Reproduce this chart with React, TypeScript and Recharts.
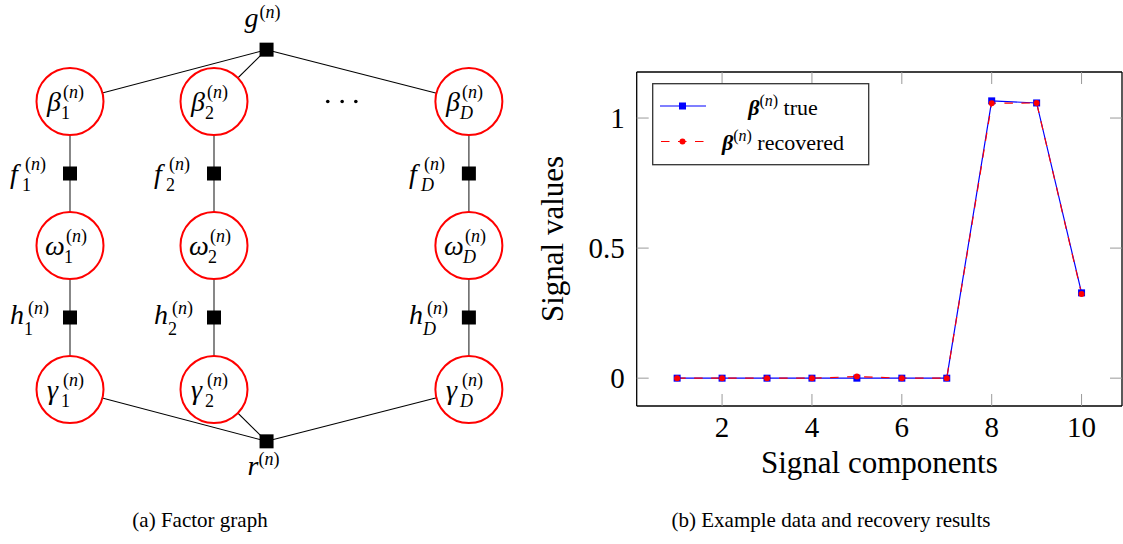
import { ScatterChart, Scatter, LineChart, Line, XAxis, YAxis, Legend } from 'recharts'

// ---- factor graph (a) ----
// node grid units: one row step = one unit
const columnIds = ['1', '2', 'D']
const columnX = [0, 2, 5.54]
const chainSymbols = ['β', 'f', 'ω', 'h', 'γ']
const chainKinds = ['var', 'factor', 'var', 'factor', 'var']
const hubSymbols = ['g', 'r']
const hubX = 2.73
const hubRows = [-0.72, 4.72]
const ellipsisX = [3.58, 3.78, 3.97]

// ---- signal recovery (b) ----
const components = [1, 2, 3, 4, 5, 6, 7, 8, 9, 10]
const trueValues = [0, 0, 0, 0, 0, 0, 0, 1.066, 1.058, 0.328]
const recoveredValues = [0, 0, 0, 0, 0.006, 0, 0, 1.057, 1.058, 0.324]
const xTicks = [2, 4, 6, 8, 10]
const yTicks = [0, 0.5, 1]

const captions = ['(a) Factor graph', '(b) Example data and recovery results']

const serif = '"Liberation Serif", "DejaVu Serif", serif'

type GNode = { id: string; sym: string; sub: string; kind: string; x: number; y: number }

const nodes: GNode[] = []
columnIds.forEach((sub, c) =>
  chainSymbols.forEach((sym, r) =>
    nodes.push({ id: sym + sub, sym, sub, kind: chainKinds[r], x: columnX[c], y: r })
  )
)
hubSymbols.forEach((sym, i) => nodes.push({ id: sym, sym, sub: '', kind: 'hub', x: hubX, y: hubRows[i] }))
const byId = (id: string) => nodes.find(n => n.id === id) as GNode

const edges: { a: GNode; b: GNode; chain: boolean }[] = []
columnIds.forEach(sub => {
  for (let r = 0; r < chainSymbols.length - 1; r++)
    edges.push({ a: byId(chainSymbols[r] + sub), b: byId(chainSymbols[r + 1] + sub), chain: true })
  edges.push({ a: byId('g'), b: byId('β' + sub), chain: false })
  edges.push({ a: byId('r'), b: byId('γ' + sub), chain: false })
})

const dots = ellipsisX.map(x => ({ x, y: 0 }))

// label placement relative to node centre (px)
const glyphs: Record<string, { bx: number; by: number; sx: number; subX: number; supY: number; subY: number }> = {
  β: { bx: -23, by: 9, sx: -7, subX: -9, supY: -4, subY: 17 },
  ω: { bx: -25, by: 9, sx: -4, subX: -6, supY: -4, subY: 17 },
  γ: { bx: -23, by: 9, sx: -7, subX: -9, supY: -4, subY: 17 },
  f: { bx: -60, by: 9, sx: -45, subX: -48, supY: -4, subY: 17 },
  h: { bx: -60, by: 6, sx: -42, subX: -46, supY: -4, subY: 17 },
  g: { bx: -22, by: -23, sx: -7, subX: 0, supY: -32, subY: 0 },
  r: { bx: -19, by: 34, sx: -8, subX: 0, supY: 24, subY: 0 },
}

function MathLabel({ cx, cy, sym, sub }: { cx: number; cy: number; sym: string; sub: string }) {
  const g = glyphs[sym]
  return (
    <g fontFamily={serif} fill="#000">
      <text x={cx + g.bx} y={cy + g.by} fontSize={28} fontStyle="italic">{sym}</text>
      <text x={cx + g.sx} y={cy + g.supY} fontSize={18}>
        (<tspan fontStyle="italic">n</tspan>)
      </text>
      {sub && (
        <text x={cx + g.subX} y={cy + g.subY} fontSize={18} fontStyle={sub === 'D' ? 'italic' : 'normal'}>
          {sub}
        </text>
      )}
    </g>
  )
}

function NodeShape(props: any) {
  const { cx, cy, payload } = props
  if (payload.kind === 'var') {
    return (
      <g>
        <circle cx={cx} cy={cy} r={33.5} fill="#fff" stroke="#ff0000" strokeWidth={2} />
        <MathLabel cx={cx} cy={cy} sym={payload.sym} sub={payload.sub} />
      </g>
    )
  }
  return (
    <g>
      <rect x={cx - 7} y={cy - 7} width={14} height={14} fill="#000" />
      <MathLabel cx={cx} cy={cy} sym={payload.sym} sub={payload.sub} />
    </g>
  )
}

function FactorGraph() {
  return (
    <ScatterChart width={540} height={500} margin={{ top: 0, right: 0, bottom: 0, left: 0 }}>
      <XAxis type="number" dataKey="x" hide allowDataOverflow domain={[-70 / 72, -70 / 72 + 540 / 72]} />
      <YAxis type="number" dataKey="y" hide allowDataOverflow reversed domain={[-101.5 / 72, -101.5 / 72 + 500 / 72]} />
      {edges.map((e, i) => (
        <Scatter
          key={'e' + i}
          data={[e.a, e.b]}
          fill={e.chain ? '#555' : '#000'}
          line={{ stroke: e.chain ? '#555' : '#000', strokeWidth: e.chain ? 1.4 : 1.1 }}
          shape={() => <g />}
          isAnimationActive={false}
        />
      ))}
      <Scatter
        data={dots}
        fill="#000"
        shape={(p: any) => <circle cx={p.cx} cy={p.cy} r={1.8} fill="#000" />}
        isAnimationActive={false}
      />
      <Scatter data={nodes} fill="#000" shape={NodeShape} isAnimationActive={false} />
    </ScatterChart>
  )
}

const signalRows = components.map((c, i) => ({ component: c, actual: trueValues[i], recovered: recoveredValues[i] }))

const tickStroke = '#9a9a9a'
const TL = 12

function LegendBox() {
  return (
    <svg width={218} height={83} style={{ display: 'block' }}>
      <rect x={0.7} y={0.7} width={216} height={81} fill="#fff" stroke="#333" strokeWidth={1.3} />
      <line x1={8} x2={54} y1={23} y2={23} stroke="#0000ff" strokeWidth={1.2} />
      <rect x={27} y={19.5} width={7} height={7} fill="#0000ff" />
      <line x1={8} x2={54} y1={58.5} y2={58.5} stroke="#ff0000" strokeWidth={1.2} strokeDasharray="8.5 8.5" strokeDashoffset={-1} />
      <circle cx={30.5} cy={58.5} r={3} fill="#ff0000" />
      <text x={131} y={32} textAnchor="middle" fontFamily={serif} fontSize={22}>
        <tspan fontWeight="bold" fontStyle="italic">β</tspan>
        <tspan fontSize={16} dy={-9}>(</tspan>
        <tspan fontSize={16} fontStyle="italic">n</tspan>
        <tspan fontSize={16}>)</tspan>
        <tspan dy={9}>{'  true'}</tspan>
      </text>
      <text x={131} y={66.5} textAnchor="middle" fontFamily={serif} fontSize={22}>
        <tspan fontWeight="bold" fontStyle="italic">β</tspan>
        <tspan fontSize={16} dy={-9}>(</tspan>
        <tspan fontSize={16} fontStyle="italic">n</tspan>
        <tspan fontSize={16}>)</tspan>
        <tspan dy={9}>{'  recovered'}</tspan>
      </text>
    </svg>
  )
}

function SignalChart() {
  return (
    <LineChart width={603} height={470} data={signalRows} margin={{ top: 31, right: 0, bottom: 0, left: 0 }}>
      <XAxis
        xAxisId="b"
        dataKey="component"
        type="number"
        domain={[0.1, 10.9]}
        allowDataOverflow
        ticks={xTicks}
        interval={0}
        height={104}
        tickSize={0}
        tickMargin={0}
        tickLine={false}
        axisLine={{ stroke: '#000', strokeWidth: 1.3 }}
        tick={(p: any) => (
          <g>
            <line x1={p.x} x2={p.x} y1={p.y} y2={p.y - TL} stroke={tickStroke} strokeWidth={1} />
            <text x={p.x} y={p.y + 31} textAnchor="middle" fontFamily={serif} fontSize={29} fill="#000">
              {p.payload.value}
            </text>
          </g>
        )}
        label={(p: any) => {
          const vb = p?.viewBox ?? { x: 116.7, y: 366, width: 485, height: 104 }
          return (
            <text x={vb.x + vb.width / 2} y={vb.y + 67} textAnchor="middle" fontFamily={serif} fontSize={31} fill="#000">
              Signal components
            </text>
          )
        }}
      />
      <XAxis
        xAxisId="t"
        orientation="top"
        dataKey="component"
        type="number"
        domain={[0.1, 10.9]}
        allowDataOverflow
        ticks={xTicks}
        interval={0}
        height={1}
        tickSize={0}
        tickMargin={0}
        tickLine={false}
        axisLine={{ stroke: '#000', strokeWidth: 1.3 }}
        tick={(p: any) => <line x1={p.x} x2={p.x} y1={p.y} y2={p.y + TL} stroke={tickStroke} strokeWidth={1} />}
      />
      <YAxis
        yAxisId="l"
        type="number"
        domain={[-0.107, 1.177]}
        allowDataOverflow
        ticks={yTicks}
        interval={0}
        width={116.7}
        tickSize={0}
        tickMargin={0}
        tickLine={false}
        axisLine={{ stroke: '#000', strokeWidth: 1.3 }}
        tick={(p: any) => (
          <g>
            <line x1={p.x} x2={p.x + TL} y1={p.y} y2={p.y} stroke={tickStroke} strokeWidth={1} />
            <text x={p.x - 12} y={p.y + 10} textAnchor="end" fontFamily={serif} fontSize={29} fill="#000">
              {p.payload.value}
            </text>
          </g>
        )}
        label={(p: any) => {
          const vb = p?.viewBox ?? { x: 0, y: 32, width: 116.7, height: 334 }
          const lx = vb.x + 43
          const ly = vb.y + vb.height / 2
          return (
            <text x={lx} y={ly} transform={`rotate(-90 ${lx} ${ly})`} textAnchor="middle" fontFamily={serif} fontSize={31} fill="#000">
              Signal values
            </text>
          )
        }}
      />
      <YAxis
        yAxisId="r"
        orientation="right"
        type="number"
        domain={[-0.107, 1.177]}
        allowDataOverflow
        ticks={yTicks}
        interval={0}
        width={1}
        tickSize={0}
        tickMargin={0}
        tickLine={false}
        axisLine={{ stroke: '#000', strokeWidth: 1.3 }}
        tick={(p: any) => <line x1={p.x} x2={p.x - TL} y1={p.y} y2={p.y} stroke={tickStroke} strokeWidth={1} />}
      />
      <Line
        xAxisId="b"
        yAxisId="l"
        dataKey="actual"
        type="linear"
        stroke="#0000ff"
        strokeWidth={1.2}
        isAnimationActive={false}
        activeDot={false}
        dot={(p: any) => <rect key={'a' + p.index} x={p.cx - 3.5} y={p.cy - 3.5} width={7} height={7} fill="#0000ff" />}
      />
      <Line
        xAxisId="b"
        yAxisId="l"
        dataKey="recovered"
        type="linear"
        stroke="#ff0000"
        strokeWidth={1.2}
        strokeDasharray="8.5 8.5"
        isAnimationActive={false}
        activeDot={false}
        dot={(p: any) => <circle key={'r' + p.index} cx={p.cx} cy={p.cy} r={3} fill="#ff0000" />}
      />
      <Legend
        layout="vertical"
        align="center"
        verticalAlign="middle"
        wrapperStyle={{ left: 131.5, top: 42.5, width: 218, height: 83 }}
        content={() => <LegendBox />}
      />
    </LineChart>
  )
}

export default function App() {
  return (
    <div style={{ position: 'absolute', left: 0, top: 0, width: 1123, height: 544, background: '#fff', overflow: 'hidden' }}>
      <div style={{ position: 'absolute', left: 0, top: 0 }}>
        <FactorGraph />
      </div>
      <div style={{ position: 'absolute', left: 520, top: 40 }}>
        <SignalChart />
      </div>
      <svg width={1123} height={44} style={{ position: 'absolute', left: 0, top: 500 }}>
        <text x={200} y={27} textAnchor="middle" fontFamily={serif} fontSize={21}>{captions[0]}</text>
        <text x={831} y={27} textAnchor="middle" fontFamily={serif} fontSize={21}>{captions[1]}</text>
      </svg>
    </div>
  )
}
